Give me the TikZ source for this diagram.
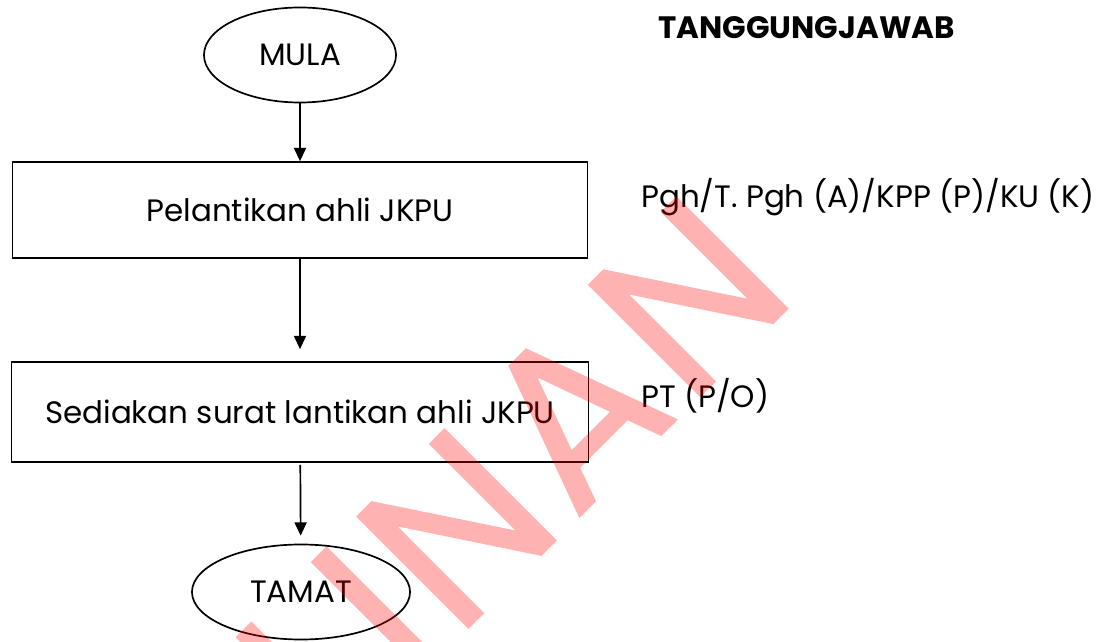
\documentclass[tikz,border=0pt]{standalone}
\usepackage{fontspec}
\setmainfont{Poppins}
\usetikzlibrary{positioning,arrows.meta,shapes.geometric}

\tikzset{
    langkah/.style={draw, line width=1.2pt, minimum height=2.4cm, inner sep=0pt},
    terminal/.style={draw, ellipse, line width=1.2pt, minimum height=2.375cm, inner sep=0pt},
    panah/.style={-{Triangle[length=0.33cm,width=0.3cm]}, line width=1.2pt},
    label/.style={anchor=west, inner sep=0pt},
    wmark/.style={font=\fontsize{160}{164}\selectfont, text=red,
                  rotate=45, anchor=base east, inner sep=0pt}
}

\begin{document}
\begin{tikzpicture}[x=0.025cm, y=-0.025cm, font=\fontsize{22}{26}\selectfont]
    \useasboundingbox (0,0) rectangle (1103,642);
    % carta alir
    \node[terminal, minimum width=4.8cm] (mula) at (300,55) {MULA};
    \node[langkah, minimum width=14.375cm] (lantik) at (300,210) {Pelantikan ahli JKPU};
    \node[langkah, minimum width=14.425cm, minimum height=2.5cm] (surat) at (300,412)
        {Sediakan surat lantikan ahli JKPU};
    \node[terminal, minimum width=5.45cm] (tamat) at (301,592) {TAMAT};
    \draw[panah] (mula) -- (lantik);
    \draw[panah, shorten >=0.3cm] (lantik) -- (surat);
    \draw[panah, shorten <=0.05cm, shorten >=0.2cm] (surat) -- (tamat);
    % tanggungjawab
    \node[label] (tgjwb) at (658,28) {\bfseries TANGGUNGJAWAB};
    \node[label] (pgh) at (641,197) {Pgh/T. Pgh (A)/KPP (P)/KU (K)};
    \node[label] (pt) at (641,396) {PT (P/O)};
    % tanda air
    \begin{scope}[transparency group, opacity=0.3]
        \node[wmark] (salinan) at (800,296) {\addfontfeatures{LetterSpace=4,FakeBold=0.8}SALINAN};
    \end{scope}
\end{tikzpicture}
\end{document}
